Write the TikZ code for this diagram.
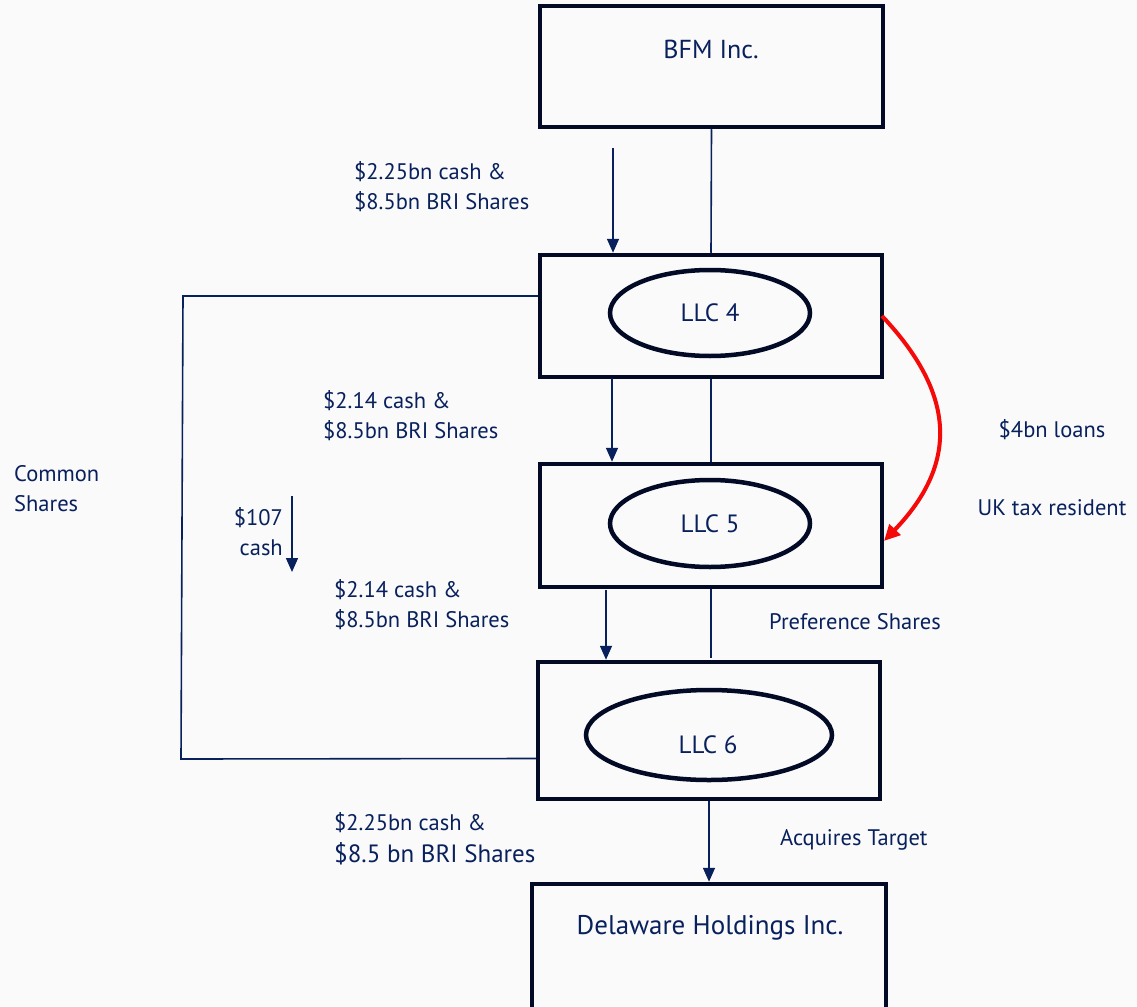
\documentclass[tikz,border=0pt]{standalone}
\usepackage{fontspec}
\setmainfont{PT Sans}
\usetikzlibrary{arrows.meta,shapes.geometric,calc}
\definecolor{navy}{RGB}{8,32,92}
\definecolor{boxc}{RGB}{2,10,38}
\definecolor{bg}{RGB}{250,250,251}
\definecolor{redc}{RGB}{245,10,10}
\tikzset{
  ent/.style={draw=boxc,line width=4.5pt,rectangle,inner sep=0pt},
  oval/.style={draw=boxc,line width=4.5pt,ellipse,inner sep=0pt,text=navy,font=\fontsize{25}{28}\selectfont},
  lbl/.style={text=navy,font=\fontsize{22.5}{30}\selectfont,inner sep=0pt,align=left},
  link/.style={draw=navy,line width=1.6pt},
  arr/.style={draw=navy,line width=1.6pt,-{Triangle[length=14pt,width=12pt]}},
}
\begin{document}
\begin{tikzpicture}[x=1pt,y=-1pt]
\fill[bg] (0,0) rectangle (1137,1006);
\useasboundingbox (0,0) rectangle (1137,1006);
% boxes
\node[ent,minimum width=343pt,minimum height=121pt] (bfm) at (711.5,66.5) {};
\node[text=navy,font=\fontsize{26}{30}\selectfont] (bfmt) at (711,49) {BFM Inc.};
\node[ent,minimum width=342pt,minimum height=122pt] (llc4) at (711,316) {};
\node[oval,minimum width=200pt,minimum height=86pt] (e4) at (710,313) {LLC 4};
\node[ent,minimum width=342pt,minimum height=123pt] (llc5) at (711,525.5) {};
\node[oval,minimum width=200pt,minimum height=87pt] (e5) at (710,523.5) {LLC 5};
\node[ent,minimum width=342pt,minimum height=137pt] (llc6) at (709,730.5) {};
\node[oval,minimum width=246pt,minimum height=90pt] (e6) at (709,735) {};
\node[text=navy,font=\fontsize{25}{28}\selectfont] (e6t) at (708,745) {LLC 6};
\node[ent,minimum width=354pt,minimum height=140pt] (del) at (709,954) {};
\node[text=navy,font=\fontsize{27}{30}\selectfont] (delt) at (710,928) {Delaware Holdings Inc.};
% vertical links
\draw[link] (bfm.south) -- (llc4.north);
\draw[link] (llc4.south) -- (llc5.north);
\coordinate (p5) at (711,658);
\draw[link] (llc5.south) -- (p5);
\draw[arr] (llc6.south) -- (del.north);
% free arrows
\coordinate (a1) at (613,148);
\draw[arr] (a1) -- (a1 |- llc4.north);
\coordinate (a2) at (612,378);
\draw[arr] (a2) -- (a2 |- llc5.north);
\coordinate (a3) at (606,590);
\draw[arr] (a3) -- (a3 |- llc6.north);
\coordinate (a4) at (292,496);
\coordinate (a4e) at (292,572);
\draw[arr] (a4) -- (a4e);
% common shares line
\coordinate (c1) at (183,296);
\coordinate (c2) at (181,759);
\draw[link] ([yshift=20pt]llc4.west) -- (c1) -- (c2) -- ([yshift=-28pt]llc6.west);
% red loan arrow
\coordinate (r1) at (882,316);
\coordinate (r2) at (884,541);
\draw[draw=redc,line width=4pt,-{Triangle[length=16pt,width=15pt]}] (r1) .. controls (952,390) and (962,460) .. (r2);
% labels
\node[lbl,anchor=west] (t1) at (354,187) {\$2.25bn cash \&\\\$8.5bn BRI Shares};
\node[lbl,anchor=west] (t2) at (323,416) {\$2.14 cash \&\\\$8.5bn BRI Shares};
\node[lbl,anchor=west] (t3) at (14,489) {Common\\Shares};
\node[lbl,anchor=east,align=right] (t4) at (283,532) {\$107\\cash};
\node[lbl,anchor=west] (t5) at (334,605) {\$2.14 cash \&\\\$8.5bn BRI Shares};
\node[lbl,anchor=west] (t6) at (769,622) {Preference Shares};
\node[lbl] (t7) at (1052,430) {\$4bn loans};
\node[lbl] (t8) at (1052,508) {UK tax resident};
\node[lbl,anchor=west] (t9) at (780,840) {Acquires Target};
\node[lbl,anchor=west] (t10) at (334,823) {\$2.25bn cash \&};
\node[lbl,anchor=west,font=\fontsize{25}{28}\selectfont] (t11) at (334,854) {\$8.5 bn BRI Shares};
\end{tikzpicture}
\end{document}
